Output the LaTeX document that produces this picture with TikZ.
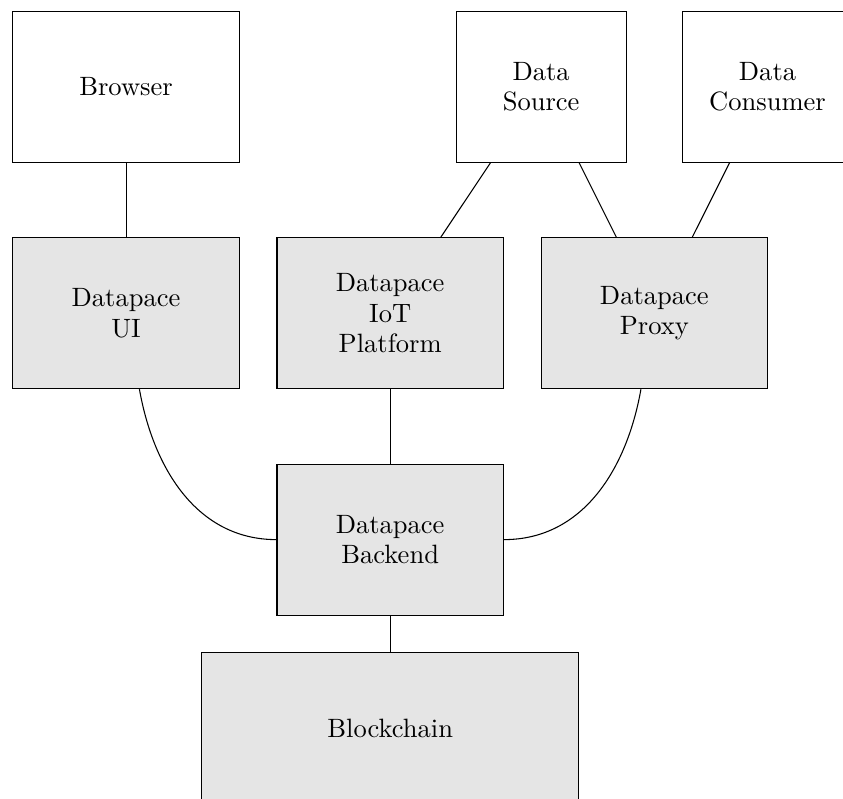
\documentclass[tikz,border=0pt]{standalone}
\usetikzlibrary{positioning}
\tikzstyle{block} = [rectangle, draw, fill=white, align=center,
    font={\fontsize{10}{11.5}\selectfont}, minimum width=3cm, minimum height=2cm]
\tikzstyle{core} = [block, fill=black!10]
\tikzstyle{party} = [block, minimum width=2.25cm]
\tikzstyle{link} = [draw]
\begin{document}
\begin{tikzpicture}[node distance = 3cm]
   \useasboundingbox (0,0) rectangle (11.17,-10.58);
   % Place nodes
    \node [block] at (1.67,-1.15) (browser) {Browser};
    \node [core, below of=browser] (ui) {Datapace\\UI};
    \node [core, right of=ui, node distance = 3.5cm] (iot) {Datapace\\IoT\\Platform};
    \node [core, right of=iot, node distance = 3.5cm] (proxy) {Datapace\\Proxy};
    \node [party, above of=proxy, xshift=-1.5cm] (source) {Data\\Source};
    \node [party, above of=proxy, xshift=1.5cm] (consumer) {Data\\Consumer};
    \node [core, below of=iot] (backend) {Datapace\\Backend};
    \node [core, below of=backend, node distance = 2.5cm, minimum width=5cm] (chain) {Blockchain};
   % Draw edges
    \path [link] (browser) -- (ui);
    \path [link] (source) -- (iot);
    \path [link] (source) -- (proxy);
    \path [link] (consumer) -- (proxy);
    \path [link] (iot) -- (backend);
    \path [link] (ui) to[out=-80, in=180] (backend.west);
    \path [link] (proxy) to[out=-100, in=0] (backend.east);
    \path [link] (backend) -- (chain);
\end{tikzpicture}
\end{document}
